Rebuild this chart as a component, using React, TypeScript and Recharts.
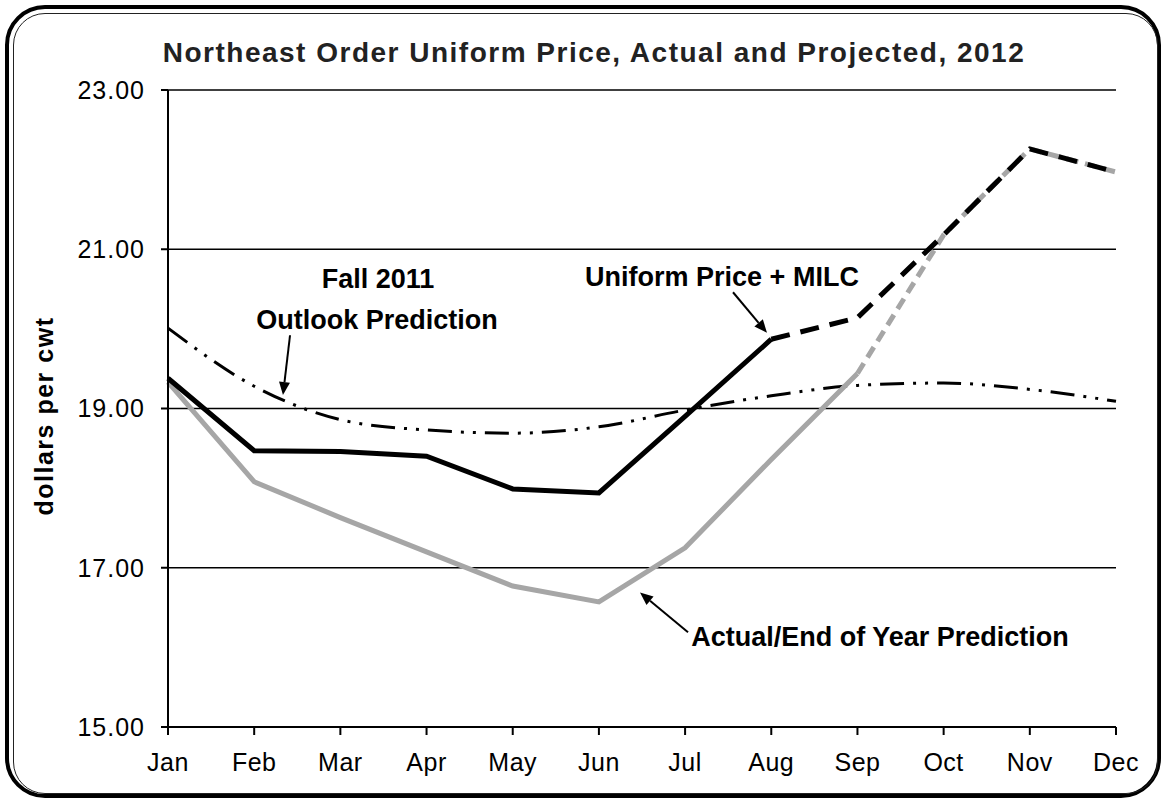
import React from 'react';
import { LineChart, Line, XAxis, YAxis, CartesianGrid, ReferenceLine, ReferenceDot } from 'recharts';

const months = ['Jan', 'Feb', 'Mar', 'Apr', 'May', 'Jun', 'Jul', 'Aug', 'Sep', 'Oct', 'Nov', 'Dec'];
const uniformActual = [19.38, 18.47, 18.46, 18.4, 17.99, 17.94, 18.9, 19.87, null, null, null, null];
const uniformProjected = [null, null, null, null, null, null, null, 19.87, 20.14, 21.18, 22.26, 21.97];
const actualEOY = [19.33, 18.08, 17.63, 17.2, 16.77, 16.57, 17.25, 18.36, 19.44, null, null, null];
const eoyProjected = [null, null, null, null, null, null, null, null, 19.44, 21.18, 22.26, 21.97];
const fallOutlook = [20.01, 19.28, 18.86, 18.73, 18.69, 18.77, 18.98, 19.16, 19.29, 19.32, 19.24, 19.09];
const yTicks = [15, 17, 19, 21, 23];

const title = 'Northeast Order Uniform Price, Actual and Projected, 2012';
const yLabel = 'dollars per cwt';

const data = months.map((m, i) => ({
  idx: i,
  month: m,
  uniformActual: uniformActual[i],
  uniformProjected: uniformProjected[i],
  actualEOY: actualEOY[i],
  eoyProjected: eoyProjected[i],
  fallOutlook: fallOutlook[i],
}));

const FONT = '"Liberation Sans", Arial, Helvetica, sans-serif';

const Arrow = (props: any) => {
  const { x1, y1, x2, y2 } = props;
  const ang = Math.atan2(y2 - y1, x2 - x1);
  const hl = 13;
  const hw = 5.5;
  const bx = x2 - hl * Math.cos(ang);
  const by = y2 - hl * Math.sin(ang);
  const px = -Math.sin(ang) * hw;
  const py = Math.cos(ang) * hw;
  return (
    <g>
      <line x1={x1} y1={y1} x2={bx} y2={by} stroke="#000" strokeWidth={2} />
      <polygon points={`${x2},${y2} ${bx + px},${by + py} ${bx - px},${by - py}`} fill="#000" />
    </g>
  );
};

const makeLabel = (text: string) => (props: any) => (
  <text
    x={props.cx}
    y={props.cy}
    textAnchor="middle"
    dominantBaseline="central"
    fontFamily={FONT}
    fontWeight="bold"
    fontSize={27}
    fill="#000"
  >
    {text}
  </text>
);

export default function App() {
  return (
    <div style={{ position: 'absolute', left: 0, top: 0, width: 1163, height: 800, background: '#fff' }}>
      <div
        style={{
          position: 'absolute',
          left: 5,
          top: 5,
          width: 1156,
          height: 793,
          boxSizing: 'border-box',
          border: '4px solid #000',
          borderRadius: 40,
        }}
      />
      <div
        style={{
          position: 'absolute',
          left: 13,
          top: 13,
          width: 1145,
          height: 781,
          boxSizing: 'border-box',
          border: '1.5px solid #222',
          borderRadius: 32,
        }}
      />
      <div style={{ position: 'absolute', left: 0, top: 0 }}>
        <LineChart
          width={1163}
          height={800}
          data={data}
          margin={{ top: 90, right: 47, bottom: 23, left: 88 }}
        >
          <CartesianGrid vertical={false} stroke="#000" strokeWidth={1.5} />
          <XAxis
            dataKey="idx"
            type="number"
            domain={[0, 11]}
            ticks={months.map((_, i) => i)}
            tickFormatter={(v: number) => months[v]}
            allowDecimals={false}
            height={50}
            stroke="#000"
            strokeWidth={2}
            tickSize={8}
            tickMargin={18}
            tick={{ fill: '#000', fontSize: 25, fontFamily: FONT, letterSpacing: 0.5 }}
          />
          <YAxis
            domain={[15, 23]}
            ticks={yTicks}
            tickFormatter={(v: number) => v.toFixed(2)}
            width={80}
            stroke="#000"
            strokeWidth={2}
            tickSize={7}
            tickMargin={16}
            tick={{ fill: '#000', fontSize: 25, fontFamily: FONT, letterSpacing: 1 }}
          />
          <Line
            dataKey="fallOutlook"
            type="monotone"
            stroke="#000"
            strokeWidth={3}
            strokeDasharray="24 9 3 9 3 9"
            dot={false}
            activeDot={false}
            isAnimationActive={false}
          />
          <Line
            dataKey="actualEOY"
            type="linear"
            stroke="#A6A6A6"
            strokeWidth={5}
            dot={false}
            activeDot={false}
            isAnimationActive={false}
          />
          <Line
            dataKey="eoyProjected"
            type="linear"
            stroke="#A6A6A6"
            strokeWidth={5}
            strokeDasharray="12 7"
            dot={false}
            activeDot={false}
            isAnimationActive={false}
          />
          <Line
            dataKey="uniformActual"
            type="linear"
            stroke="#000"
            strokeWidth={5}
            dot={false}
            activeDot={false}
            isAnimationActive={false}
          />
          <Line
            dataKey="uniformProjected"
            type="linear"
            stroke="#000"
            strokeWidth={5}
            strokeDasharray="19 11"
            dot={false}
            activeDot={false}
            isAnimationActive={false}
          />
          <ReferenceLine segment={[{ x: 1.416, y: 19.92 }, { x: 1.334, y: 19.17 }]} shape={Arrow} />
          <ReferenceLine segment={[{ x: 6.556, y: 20.46 }, { x: 6.95, y: 19.95 }]} shape={Arrow} />
          <ReferenceLine segment={[{ x: 6.034, y: 16.19 }, { x: 5.477, y: 16.69 }]} shape={Arrow} />
          <ReferenceDot x={2.437} y={20.626} r={1} shape={makeLabel('Fall 2011')} />
          <ReferenceDot x={2.425} y={20.11} r={1} shape={makeLabel('Outlook Prediction')} />
          <ReferenceDot x={6.428} y={20.651} r={1} shape={makeLabel('Uniform Price + MILC')} />
          <ReferenceDot x={8.262} y={16.128} r={1} shape={makeLabel('Actual/End of Year Prediction')} />
        </LineChart>
      </div>
      <svg
        width={1163}
        height={800}
        style={{ position: 'absolute', left: 0, top: 0, pointerEvents: 'none' }}
      >
        <text
          x={594}
          y={62}
          textAnchor="middle"
          fontFamily={FONT}
          fontWeight="bold"
          fontSize={28}
          letterSpacing={1.5}
          fill="#222"
        >
          {title}
        </text>
        <text
          transform="translate(53,416) rotate(-90)"
          textAnchor="middle"
          fontFamily={FONT}
          fontWeight="bold"
          fontSize={25}
          letterSpacing={1.5}
          fill="#000"
        >
          {yLabel}
        </text>
      </svg>
    </div>
  );
}
